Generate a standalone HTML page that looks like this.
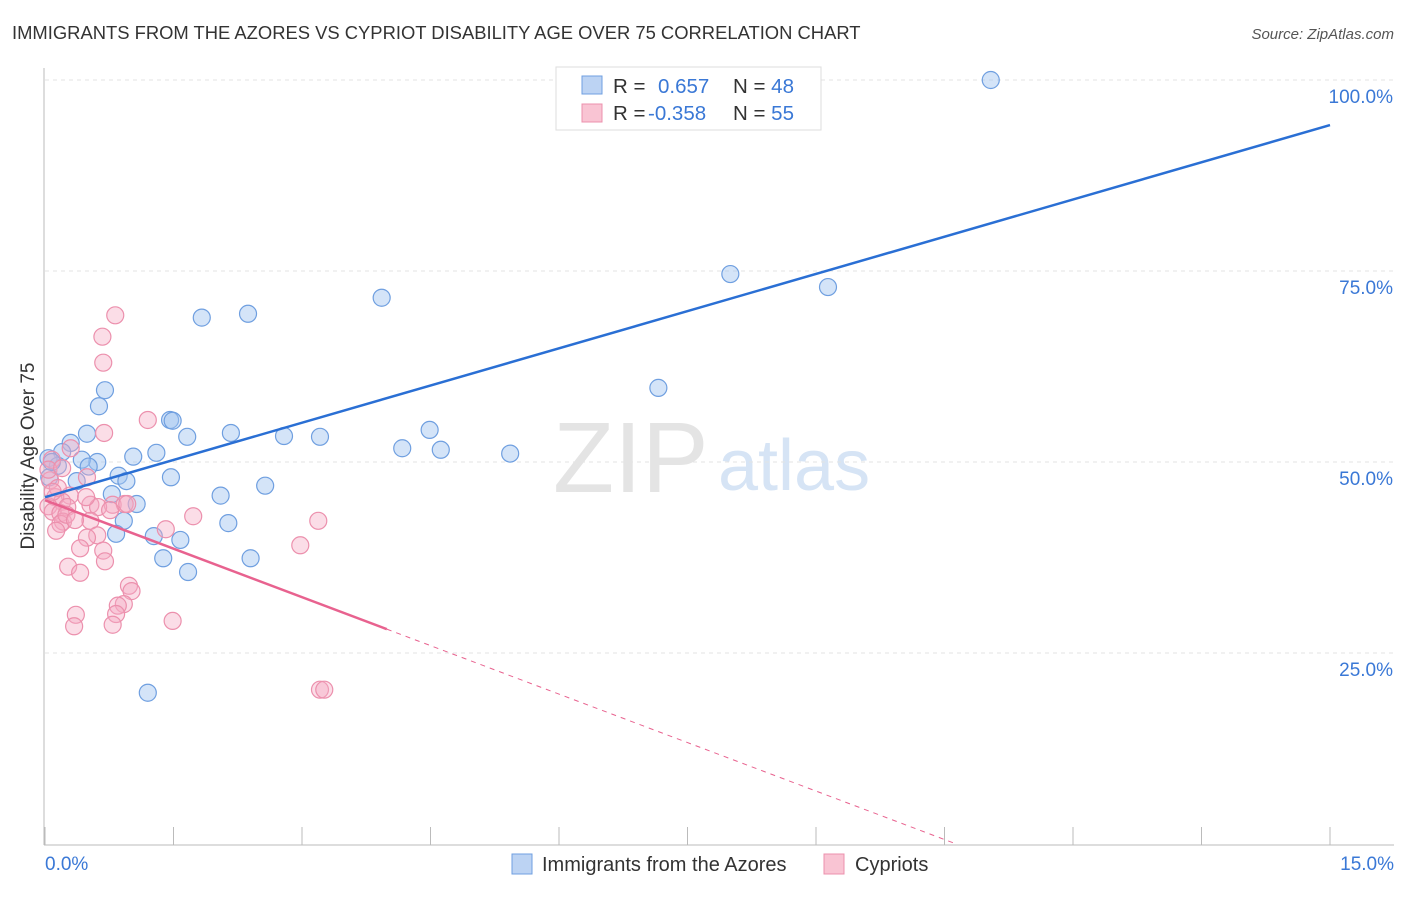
<!DOCTYPE html>
<html><head><meta charset="utf-8"><style>
body{margin:0;background:#fff;font-family:"Liberation Sans",sans-serif}
svg text{font-family:"Liberation Sans",sans-serif}
</style></head><body>
<svg width="1406" height="892" id="chart">
<text x="12" y="39" font-size="18.4" fill="#333">IMMIGRANTS FROM THE AZORES VS CYPRIOT DISABILITY AGE OVER 75 CORRELATION CHART</text>
<text x="1394" y="39" font-size="15" fill="#555" font-style="italic" text-anchor="end">Source: ZipAtlas.com</text>
<text x="553" y="492" font-size="100" fill="#e4e4e4" font-family="Liberation Serif">ZIP</text>
<text x="718" y="490" font-size="72" fill="#d6e4f5">atlas</text>
<g id="grid"></g><g id="axes"></g><g id="pts"></g><g id="lines"></g>
<text x="34" y="456" font-size="19" fill="#333" text-anchor="middle" transform="rotate(-90 34 456)">Disability Age Over 75</text>
<g>
<rect x="556" y="67" width="265" height="63" fill="#fff" stroke="#ddd"/>
<rect x="582" y="76" width="20" height="18" fill="#bcd3f3" stroke="#6f9fe0"/>
<rect x="582" y="104" width="20" height="18" fill="#f9c4d3" stroke="#ec90ad"/>
<text x="613" y="93" font-size="20.5" fill="#333">R = <tspan fill="#3a78d6" x="658">0.657</tspan><tspan fill="#333" x="733">N = </tspan><tspan fill="#3a78d6">48</tspan></text>
<text x="613" y="120" font-size="20.5" fill="#333">R = <tspan fill="#3a78d6" x="648">-0.358</tspan><tspan fill="#333" x="733">N = </tspan><tspan fill="#3a78d6">55</tspan></text>
</g>
<g>
<rect x="512" y="854" width="20" height="20" fill="#bcd3f3" stroke="#6f9fe0"/>
<text x="542" y="871" font-size="20" fill="#333">Immigrants from the Azores</text>
<rect x="824" y="854" width="20" height="20" fill="#f9c4d3" stroke="#ec90ad"/>
<text x="855" y="871" font-size="20" fill="#333">Cypriots</text>
</g>
</svg>
<script>
const blueX=[11.04,8.0,9.14,3.93,2.37,1.83,7.16,0.70,0.63,1.46,1.49,4.49,0.49,2.17,1.66,2.79,3.21,0.30,4.17,4.62,1.30,5.43,0.20,0.04,1.03,0.61,0.43,0.15,0.51,0.86,1.47,0.05,0.95,0.37,2.57,2.05,0.78,1.07,0.92,2.14,0.83,1.27,1.58,2.40,1.38,1.67,1.20,0.08];
const blueY=[100,74.6,72.9,71.5,69.4,68.9,59.7,59.4,57.3,55.5,55.4,54.2,53.7,53.8,53.3,53.4,53.3,52.5,51.8,51.6,51.2,51.1,51.3,50.5,50.7,50.0,50.3,49.5,49.4,48.2,48.0,48.0,47.5,47.5,46.9,45.6,45.8,44.5,42.3,42.0,40.6,40.3,39.8,37.4,37.4,35.6,19.8,50.0];
const pinkX=[0.82,0.67,0.68,1.20,0.69,0.30,0.08,0.49,0.06,0.29,0.12,0.20,0.53,0.04,0.26,0.79,0.93,0.62,0.09,0.18,0.76,1.73,0.21,0.53,3.19,0.18,1.41,0.13,0.61,0.49,2.98,0.41,0.68,0.70,0.27,0.41,0.98,1.01,0.92,0.85,0.83,0.36,1.49,0.34,0.79,3.21,3.26,0.04,0.15,0.48,0.09,0.25,0.96,0.35,0.20];
const pinkY=[69.2,66.4,63.0,55.5,53.8,51.8,50.3,48.0,47.6,45.6,45.4,44.8,44.4,44.2,44.1,44.4,44.5,44.1,43.5,43.3,43.7,42.9,42.2,42.3,42.3,41.9,41.2,41.0,40.4,40.1,39.1,38.7,38.4,37.0,36.3,35.5,33.8,33.1,31.4,31.2,30.1,30.0,29.2,28.5,28.7,20.2,20.2,49.0,46.6,45.4,46.1,43.1,44.5,42.4,49.2];
const blueFit=[45.4,94.1];
const pinkFit=[45.0,-4.23];
const yTicks=[25,50,75,100];
const yTickLabels=["25.0%","50.0%","75.0%","100.0%"];
const xTicks=[0,1.5,3,4.5,6,7.5,9,10.5,12,13.5,15];
const NS="http://www.w3.org/2000/svg";
const sx=v=>45+v/15*1285, sy=v=>844-v/100*764;
function mk(p,t,a){const e=document.createElementNS(NS,t);for(const k in a)e.setAttribute(k,a[k]);document.getElementById(p).appendChild(e);return e;}
yTicks.forEach((t,i)=>{
 const g=mk('grid','line',{x1:45,x2:1394,y1:sy(t),y2:sy(t),stroke:'#e3e3e3','stroke-dasharray':'4,4'});
 
 
 const l=mk('axes','text',{x:1393,y:sy(t)+23,'font-size':19,fill:'#3a78d6','text-anchor':'end'});
 l.textContent=yTickLabels[i];
 
 
});
const ax=mk('axes','line',{x1:44,x2:44,y1:68,y2:845,stroke:'#bbb'});


const bx=mk('axes','line',{x1:44,x2:1394,y1:845,y2:845,stroke:'#bbb'});


xTicks.forEach(t=>{const e=mk('axes','line',{x1:sx(t),x2:sx(t),y1:827,y2:845,stroke:'#bbb'});
 
 });
const x0=mk('axes','text',{x:45,y:870,'font-size':19,fill:'#3a78d6'});x0.textContent='0.0%';


const x1=mk('axes','text',{x:1394,y:870,'font-size':19,fill:'#3a78d6','text-anchor':'end'});x1.textContent='15.0%';


blueX.forEach((x,i)=>{const c=mk('pts','circle',{cx:sx(x),cy:sy(blueY[i]),r:8.5,fill:'rgba(160,195,240,0.45)',stroke:'#6f9fe0','stroke-width':1.2});
 
 });
pinkX.forEach((x,i)=>{const c=mk('pts','circle',{cx:sx(x),cy:sy(pinkY[i]),r:8.5,fill:'rgba(245,170,195,0.4)',stroke:'#ec90ad','stroke-width':1.2});
 
 });
const bl=mk('lines','line',{x1:sx(0),y1:sy(blueFit[0]),x2:sx(15),y2:sy(blueFit[1]),stroke:'#2a6fd4','stroke-width':2.5});


const pe=3.99, pz=-pinkFit[0]/pinkFit[1];
const pl=mk('lines','line',{x1:sx(0),y1:sy(pinkFit[0]),x2:sx(pe),y2:sy(pinkFit[0]+pinkFit[1]*pe),stroke:'#e8628f','stroke-width':2.5});


const pd=mk('lines','line',{x1:sx(pe),y1:sy(pinkFit[0]+pinkFit[1]*pe),x2:sx(pz),y2:sy(0),stroke:'#e8628f','stroke-width':1,'stroke-dasharray':'5,5'});


</script>
</body></html>
